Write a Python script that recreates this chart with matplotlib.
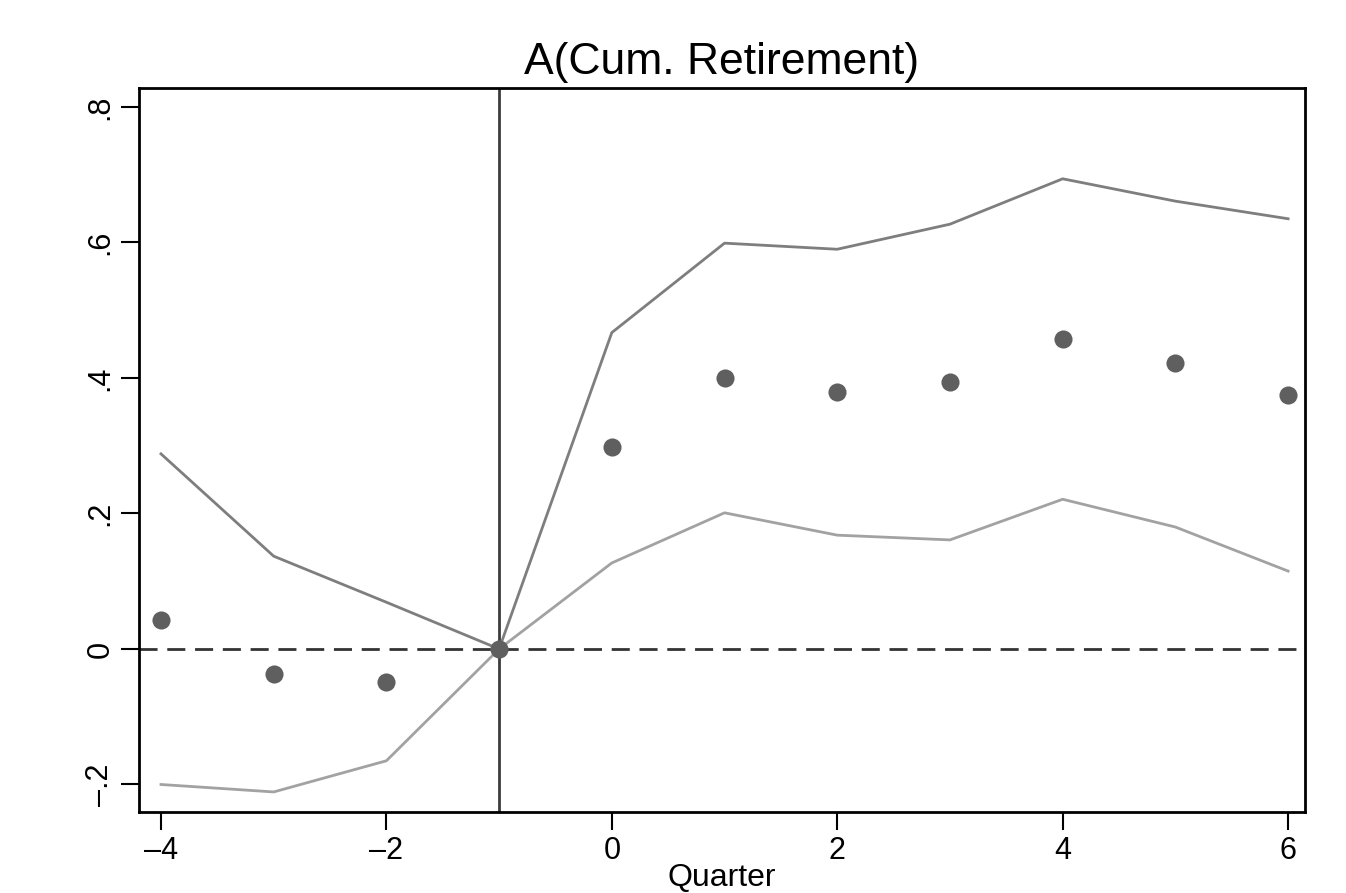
import matplotlib
matplotlib.use('agg')
import matplotlib.pyplot as plt

plt.rcParams['font.family'] = ['Liberation Sans', 'DejaVu Sans']

quarters = [-4, -3, -2, -1, 0, 1, 2, 3, 4, 5, 6]
coef = [0.043, -0.037, -0.048, 0.0, 0.298, 0.400, 0.379, 0.394, 0.458, 0.422, 0.375]
ci_upper = [0.288, 0.137, 0.069, 0.0, 0.467, 0.599, 0.590, 0.627, 0.694, 0.661, 0.635]
ci_lower = [-0.200, -0.211, -0.165, 0.0, 0.127, 0.201, 0.168, 0.161, 0.221, 0.180, 0.115]
xticks = [-4, -2, 0, 2, 4, 6]
yticks = [-0.2, 0, 0.2, 0.4, 0.6, 0.8]
ylabels = ['\u2013.2', '0', '.2', '.4', '.6', '.8']

fig = plt.figure(figsize=(13.46, 8.93), dpi=100)
ax = fig.add_axes([139/1346, 1 - 812/893, (1305-139)/1346, (812-88)/893])

# reference lines
ax.axhline(0, color='#333333', lw=2, ls=(0, (6.5, 3.5)), zorder=1)
ax.axvline(-1, color='#3c3c3c', lw=2, zorder=1)

# confidence bounds and point estimates
ax.plot(quarters, ci_upper, color='#7e7e7e', lw=2, zorder=2)
ax.plot(quarters, ci_lower, color='#a2a2a2', lw=2, zorder=2)
ax.scatter(quarters, coef, s=170, color='#5f5f5f', zorder=3, linewidths=0)

ax.set_xlim(-4.195, 6.15)
ax.set_ylim(-0.2406, 0.828)
ax.set_xticks(xticks)
ax.set_xticklabels([str(t).replace('-', '\u2013') for t in xticks])
ax.set_yticks(yticks)
ax.set_yticklabels(ylabels, rotation=90, va='center')
ax.tick_params(length=13, width=1.5, labelsize=22, direction='out', pad=4)
for s in ax.spines.values():
    s.set_linewidth(2)

# x label placed by hand so it fits above the bottom edge
fig.text(722/1346, 1 - 886/893, 'Quarter', ha='center', va='baseline', fontsize=23)
ax.set_title('A(Cum. Retirement)', fontsize=32, pad=10)

fig.savefig('out.png', dpi=100)
